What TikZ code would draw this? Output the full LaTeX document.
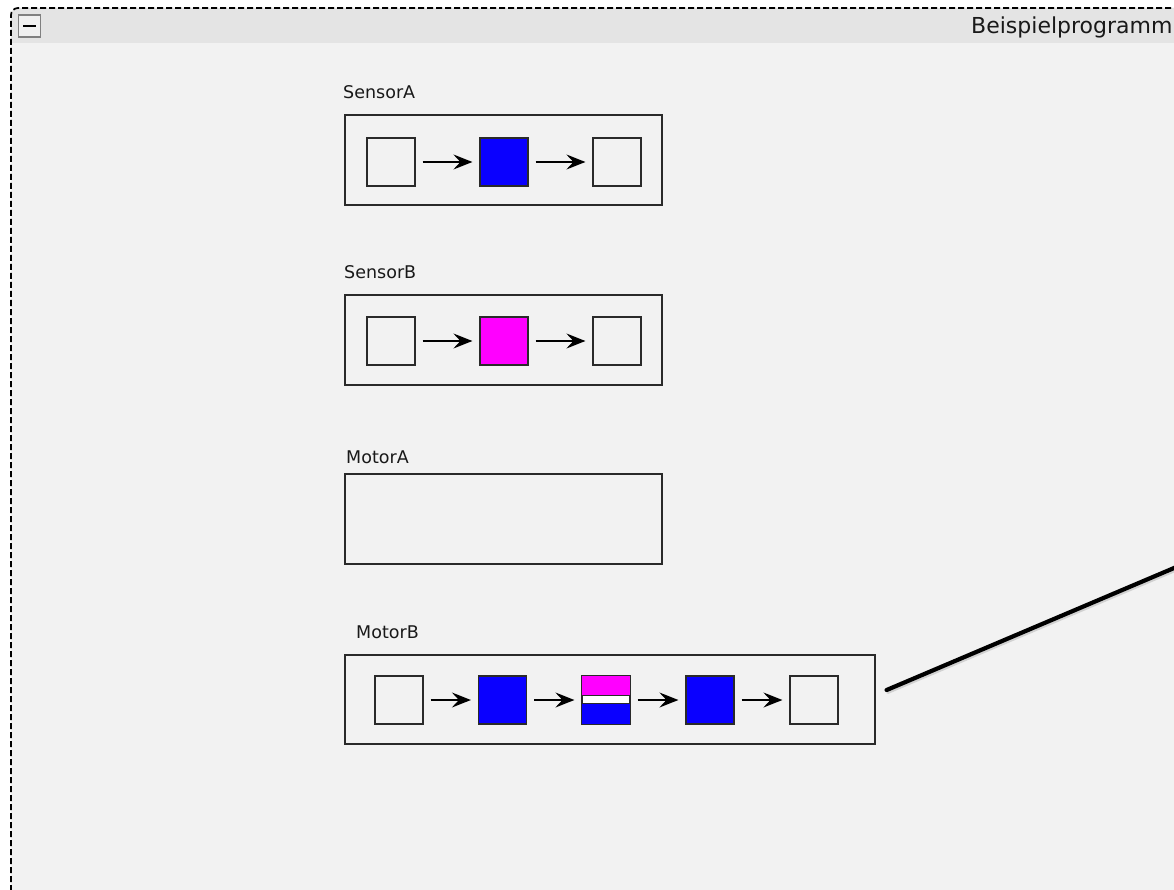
\documentclass[tikz,border=0pt]{standalone}
\usepackage{fontspec}
\setmainfont{DejaVu Sans}
\usetikzlibrary{arrows.meta}
\definecolor{bgpanel}{HTML}{F2F2F2}
\definecolor{titlebar}{HTML}{E4E4E4}
\definecolor{edgegray}{HTML}{2A2A2A}
\definecolor{stateblue}{HTML}{0A00FF}
\definecolor{statemag}{HTML}{FF00FF}
\tikzset{
  cell/.style={draw=edgegray, line width=1.2pt, minimum width=48pt, minimum height=48pt, inner sep=0pt, fill=bgpanel},
  bluecell/.style={cell, fill=stateblue},
  magcell/.style={cell, fill=statemag},
  lane/.style={draw=edgegray, line width=1.3pt, fill=bgpanel, inner sep=0pt},
  lanelabel/.style={anchor=west, inner sep=0pt, font=\fontsize{17.5}{19}\selectfont, text=black!90},
  flow/.style={-{Stealth[length=19pt,width=15pt,inset=7pt]}, line width=1.7pt, shorten <=7pt, shorten >=7pt},
}
\begin{document}
\begin{tikzpicture}[x=1pt,y=-1pt]
\useasboundingbox (0,0) rectangle (1174,890);
\clip (0,0) rectangle (1174,890);
\fill[white] (0,0) rectangle (1174,890);
% panel body and title bar (rounded top-left corner)
\fill[bgpanel] (11,900) -- (11,15) arc[start angle=180, end angle=270, radius=7] -- (1180,8) -- (1180,900) -- cycle;
\fill[titlebar] (11,43) -- (11,15) arc[start angle=180, end angle=270, radius=7] -- (1180,8) -- (1180,43) -- cycle;
\draw[line width=1.7pt, dash pattern=on 6pt off 3pt] (11,900) -- (11,15) arc[start angle=180, end angle=270, radius=7] -- (1180,8);
% collapse button
\node[draw=black!50, fill=black!6, line width=1.3pt, minimum width=22pt, minimum height=22pt, inner sep=0pt] (btn) at (29.5,26) {};
\draw[line width=2.6pt] ([xshift=-6.5pt]btn.center) -- ([xshift=6.5pt]btn.center);
% title
\node[anchor=west, inner sep=0pt, font=\fontsize{22}{24}\selectfont, text=black!90] (title) at (971,27) {Beispielprogramm};

% SensorA
\node[lanelabel] (lblSA) at (343,92) {SensorA};
\node[lane, minimum width=317pt, minimum height=90pt] (laneSA) at (503.5,160) {};
\node[cell] (sa1) at (391,162) {};
\node[bluecell] (sa2) at (504,162) {};
\node[cell] (sa3) at (617,162) {};
\draw[flow] (sa1) -- (sa2);
\draw[flow] (sa2) -- (sa3);

% SensorB
\node[lanelabel] (lblSB) at (344,272) {SensorB};
\node[lane, minimum width=317pt, minimum height=90pt] (laneSB) at (503.5,340) {};
\node[cell] (sb1) at (391,341) {};
\node[magcell] (sb2) at (504,341) {};
\node[cell] (sb3) at (617,341) {};
\draw[flow] (sb1) -- (sb2);
\draw[flow] (sb2) -- (sb3);

% MotorA
\node[lanelabel] (lblMA) at (346,457) {MotorA};
\node[lane, minimum width=317pt, minimum height=90pt] (laneMA) at (503.5,519) {};

% MotorB
\node[lanelabel] (lblMB) at (356,632) {MotorB};
\node[lane, minimum width=530pt, minimum height=89pt] (laneMB) at (610,699.5) {};
\node[cell] (mb1) at (399,700) {};
\node[bluecell] (mb2) at (502.5,700) {};
\node[cell, fill=white] (mb3) at (606,700) {};
\fill[statemag] ([shift={(0.5pt,-0.5pt)}]mb3.north west) rectangle ([shift={(-0.5pt,-20pt)}]mb3.north east);
\fill[stateblue] ([shift={(0.5pt,0.5pt)}]mb3.south west) rectangle ([shift={(-0.5pt,20.5pt)}]mb3.south east);
\draw[edgegray, line width=1.2pt] ([yshift=-20pt]mb3.north west) -- ([yshift=-20pt]mb3.north east);
\draw[edgegray, line width=1.2pt] ([yshift=21pt]mb3.south west) -- ([yshift=21pt]mb3.south east);
\draw[edgegray, line width=1.2pt] (mb3.north west) rectangle (mb3.south east);
\node[bluecell] (mb4) at (710,700) {};
\node[cell] (mb5) at (814,700) {};
\draw[flow] (mb1) -- (mb2);
\draw[flow] (mb2) -- (mb3);
\draw[flow] (mb3) -- (mb4);
\draw[flow] (mb4) -- (mb5);

% link leaving MotorB, with a soft drop shadow
\coordinate (linkstart) at ([shift={(11pt,9.5pt)}]laneMB.east);
\coordinate (linkend) at (1240,540);
\draw[black!18, line width=3pt, line cap=round] ([shift={(1pt,-2.5pt)}]linkstart) -- ([shift={(1pt,-2.5pt)}]linkend);
\draw[black, line width=4.2pt, line cap=round] (linkstart) -- (linkend);
\end{tikzpicture}
\end{document}
